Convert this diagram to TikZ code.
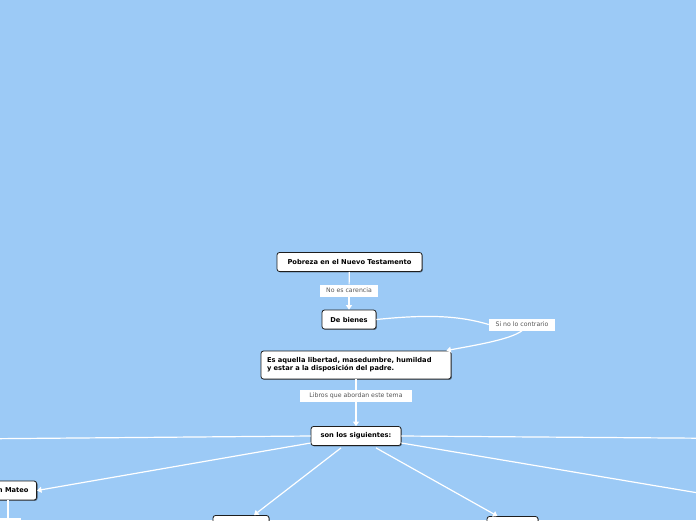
\documentclass[tikz,border=0pt]{standalone}
\usepackage{fontspec}
\setmainfont{DejaVu Sans}
\usetikzlibrary{arrows.meta,calc,shadows}
\definecolor{Sky}{HTML}{9CCAF6}
\definecolor{Ink}{HTML}{1E1E1E}
\definecolor{Muted}{HTML}{555555}
\tikzset{
 topic/.style={draw=Ink, rounded corners=2.5pt, fill=white, line width=0.8pt, inner sep=0pt, minimum height=19pt, align=center, font=\bfseries\fontsize{6.7}{8}\selectfont, drop shadow={shadow xshift=0.9pt, shadow yshift=-0.9pt, opacity=0.45, fill=black}},
 tag/.style={fill=white, inner sep=0pt, minimum height=12pt, text=Muted, font=\fontsize{6.2}{7}\selectfont},
 link/.style={draw=white, line width=1.2pt},
 arrow/.style={link, -{Triangle[width=6pt,length=4.5pt]}}
}

\begin{document}
\begin{tikzpicture}[x=1pt,y=-1pt]
\useasboundingbox (0,0) rectangle (696,520);
\clip (0,0) rectangle (696,520);
\fill[Sky] (0,0) rectangle (696,520);
% main chain
\node[topic,minimum width=145pt] (n1) at (349.5,262) {Pobreza en el Nuevo Testamento};
\node[topic,minimum width=54pt] (n2) at (349,319.5) {De bienes};
\node[topic,text width=178pt,inner xsep=6pt,minimum height=28pt,align=left] (n3) at (356,365) {Es aquella libertad, masedumbre, humildad\\y estar a la disposición del padre.};
\node[topic,minimum width=90pt] (n4) at (356,436) {son los siguientes:};
% books (partly outside the frame)
\node[topic,inner xsep=8pt,anchor=east] (b1) at (37,490.5) {Según Mateo};
\node[topic,minimum width=56pt] (b2) at (241,525) {};
\node[topic,minimum width=51pt] (b3) at (512.5,526) {};
\coordinate (b4) at (-40,439);
\coordinate (b5) at (740,438.5);
\coordinate (b6) at (740,500);
% tags
\node[tag,minimum width=58pt] (t1) at (349,290.5) {No es carencia};
\node[tag,minimum width=66pt] (t2) at (522,324.5) {Si no lo contrario};
\node[tag,minimum width=112pt] (t3) at (356,396) {Libros que abordan este tema};
\node[tag,minimum width=22pt] (t4) at (10,524) {};
% connectors
\draw[link] (n1) -- (t1);
\draw[arrow] (t1) -- (n2);
\draw[link] (n2.east) .. controls (430,314) and (460,316) .. (t2.west);
\draw[arrow] (t2.south) .. controls (510,340) and (470,346) .. ($(n3.north east)+(-5,0)$);
\draw[link] (n3) -- (t3);
\draw[arrow] (t3) -- (n4);
\draw[link] (n4.west) -- (b4);
\draw[link] (n4.east) -- (b5);
\draw[arrow] ($(n4.west)+(0,7)$) -- (b1.east);
\draw[arrow] ($(n4.south)+(-15,2)$) -- ($(b2.north)+(13,0)$);
\draw[arrow] ($(n4.south)+(20,2)$) -- ($(b3.north)+(-15,0)$);
\draw[link] ($(n4.east)+(0,7)$) -- (b6);
\draw[link] ($(b1.south east)+(-29,0)$) -- ($(t4.north)+(-2,0)$);
\end{tikzpicture}
\end{document}
